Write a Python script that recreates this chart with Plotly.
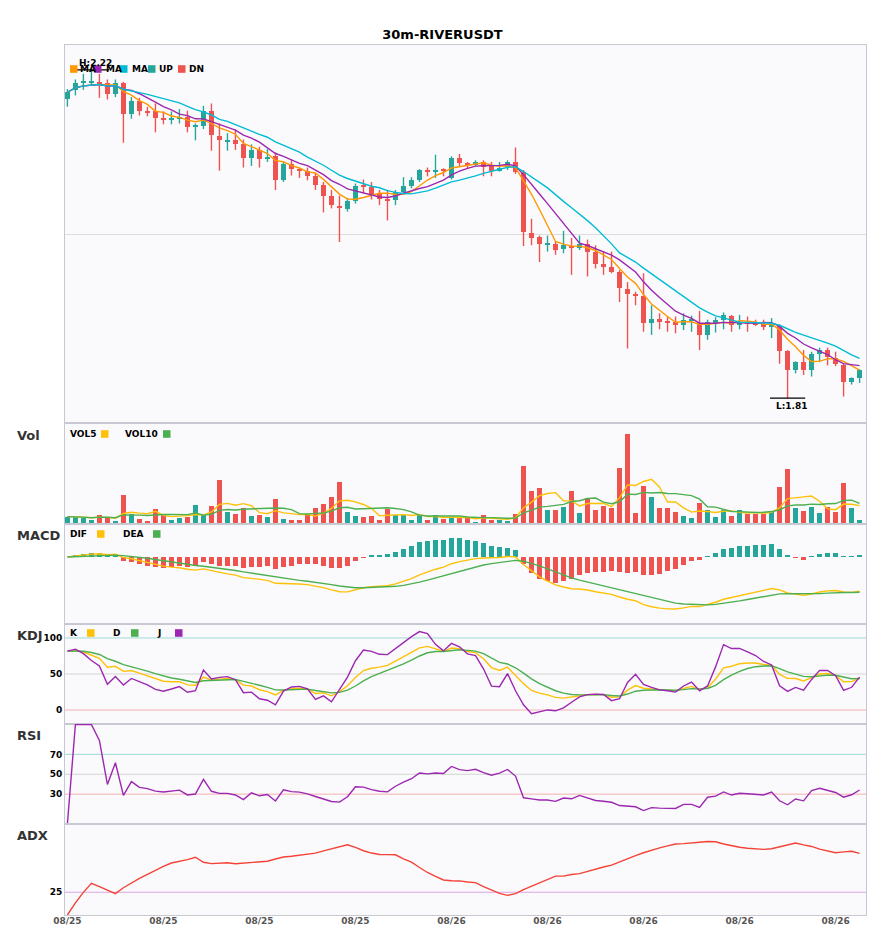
import numpy as np
import pandas as pd
import plotly.graph_objects as go
from plotly.subplots import make_subplots

# 30m candles (price in USDT)
opens = [2.184, 2.195, 2.204, 2.204, 2.205, 2.203, 2.190, 2.203, 2.165, 2.181,
         2.169, 2.168, 2.160, 2.158, 2.159, 2.161, 2.149, 2.150, 2.168, 2.138,
         2.131, 2.132, 2.127, 2.110, 2.120, 2.109, 2.112, 2.083, 2.102, 2.096,
         2.094, 2.087, 2.076, 2.063, 2.050, 2.046, 2.056, 2.075, 2.074, 2.065,
         2.059, 2.057, 2.067, 2.075, 2.082, 2.095, 2.093, 2.095, 2.085, 2.110,
         2.104, 2.101, 2.105, 2.100, 2.094, 2.099, 2.105, 2.092, 2.016, 2.011,
         2.002, 2.003, 1.996, 2.000, 1.998, 2.003, 1.993, 1.978, 1.974, 1.968,
         1.946, 1.940, 1.938, 1.904, 1.909, 1.905, 1.905, 1.901, 1.907, 1.903,
         1.889, 1.905, 1.908, 1.913, 1.902, 1.905, 1.905, 1.903, 1.899, 1.900,
         1.869, 1.845, 1.855, 1.845, 1.865, 1.870, 1.860, 1.852, 1.830, 1.835]
highs = [2.196, 2.208, 2.215, 2.220, 2.215, 2.208, 2.208, 2.205, 2.186, 2.185,
         2.174, 2.178, 2.168, 2.168, 2.171, 2.169, 2.153, 2.175, 2.178, 2.153,
         2.141, 2.146, 2.133, 2.127, 2.124, 2.121, 2.117, 2.105, 2.108, 2.097,
         2.098, 2.091, 2.080, 2.070, 2.063, 2.060, 2.078, 2.083, 2.080, 2.070,
         2.070, 2.070, 2.086, 2.086, 2.096, 2.098, 2.114, 2.097, 2.112, 2.115,
         2.105, 2.107, 2.107, 2.105, 2.105, 2.107, 2.123, 2.095, 2.034, 2.013,
         2.013, 2.006, 2.019, 2.010, 2.013, 2.008, 2.001, 1.993, 1.993, 1.970,
         1.955, 1.943, 1.966, 1.926, 1.916, 1.912, 1.912, 1.916, 1.913, 1.919,
         1.908, 1.911, 1.917, 1.914, 1.914, 1.912, 1.908, 1.908, 1.910, 1.902,
         1.870, 1.856, 1.870, 1.868, 1.873, 1.873, 1.868, 1.853, 1.836, 1.846]
lows = [2.174, 2.188, 2.195, 2.200, 2.185, 2.183, 2.186, 2.129, 2.159, 2.163,
        2.162, 2.142, 2.152, 2.152, 2.153, 2.142, 2.132, 2.146, 2.119, 2.094,
        2.119, 2.120, 2.098, 2.100, 2.098, 2.105, 2.070, 2.080, 2.088, 2.085,
        2.082, 2.070, 2.042, 2.047, 2.005, 2.043, 2.053, 2.066, 2.058, 2.051,
        2.032, 2.051, 2.066, 2.072, 2.080, 2.087, 2.085, 2.087, 2.083, 2.100,
        2.097, 2.100, 2.087, 2.087, 2.093, 2.095, 2.090, 2.000, 2.001, 1.980,
        1.993, 1.989, 1.991, 1.964, 1.995, 1.962, 1.972, 1.964, 1.966, 1.930,
        1.872, 1.926, 1.893, 1.889, 1.896, 1.893, 1.891, 1.895, 1.893, 1.870,
        1.883, 1.892, 1.896, 1.893, 1.896, 1.893, 1.900, 1.895, 1.885, 1.853,
        1.810, 1.841, 1.839, 1.837, 1.855, 1.851, 1.850, 1.812, 1.827, 1.829]
closes = [2.192, 2.203, 2.205, 2.205, 2.203, 2.190, 2.203, 2.165, 2.181, 2.169,
          2.166, 2.160, 2.158, 2.159, 2.160, 2.149, 2.150, 2.168, 2.139, 2.132,
          2.132, 2.127, 2.110, 2.120, 2.109, 2.111, 2.083, 2.103, 2.096, 2.094,
          2.087, 2.076, 2.063, 2.051, 2.047, 2.056, 2.075, 2.074, 2.065, 2.059,
          2.057, 2.067, 2.075, 2.082, 2.095, 2.093, 2.095, 2.094, 2.110, 2.104,
          2.102, 2.105, 2.099, 2.094, 2.098, 2.105, 2.093, 2.017, 2.010, 2.003,
          2.003, 1.995, 2.001, 1.997, 2.003, 1.993, 1.978, 1.974, 1.968, 1.947,
          1.940, 1.938, 1.904, 1.909, 1.905, 1.904, 1.902, 1.908, 1.908, 1.889,
          1.905, 1.907, 1.914, 1.902, 1.905, 1.903, 1.902, 1.899, 1.903, 1.869,
          1.845, 1.855, 1.845, 1.865, 1.870, 1.862, 1.853, 1.830, 1.835, 1.845]
# volume, thousands
volumes = [22, 22, 18, 13, 28, 18, 10, 88, 31, 16,
           10, 46, 26, 13, 19, 22, 58, 26, 55, 133,
           37, 31, 49, 25, 28, 22, 76, 16, 13, 13,
           28, 49, 61, 82, 127, 37, 25, 22, 25, 13,
           46, 28, 28, 13, 28, 13, 28, 16, 19, 19,
           19, 7, 28, 13, 13, 10, 31, 175, 100, 109,
           43, 43, 52, 100, 34, 79, 43, 55, 49, 169,
           271, 34, 115, 82, 49, 49, 37, 25, 19, 64,
           43, 22, 43, 25, 43, 31, 31, 31, 40, 112,
           166, 49, 40, 52, 34, 52, 37, 124, 49, 13]
tick_labels = ["08/25", "08/25", "08/25", "08/25", "08/26",
               "08/26", "08/26", "08/26", "08/26"]
ma_periods = [5, 8, 13]
price_grid = 2.014

UP = "#26a69a"
DN = "#ef5350"
FRAME = "#c8c8d2"

df = pd.DataFrame({"o": opens, "h": highs, "l": lows, "c": closes, "v": volumes})
n = len(df)
x = np.arange(n)
c = df["c"]

mas = [c.rolling(p, min_periods=1).mean() for p in ma_periods]
vol5 = df["v"].rolling(5, min_periods=1).mean()
vol10 = df["v"].rolling(10, min_periods=1).mean()

dif = c.ewm(span=12, adjust=False).mean() - c.ewm(span=26, adjust=False).mean()
dea = dif.ewm(span=9, adjust=False).mean()
hist = 2 * (dif - dea)

low9 = df["l"].rolling(9, min_periods=1).min()
high9 = df["h"].rolling(9, min_periods=1).max()
rsv = (c - low9) / (high9 - low9) * 100
k = rsv.ewm(com=2, adjust=False).mean()
d = k.ewm(com=2, adjust=False).mean()
j = 3 * k - 2 * d

delta = c.diff().fillna(0)
gain = delta.clip(lower=0).ewm(alpha=1 / 14, adjust=False).mean()
loss = (-delta).clip(lower=0).ewm(alpha=1 / 14, adjust=False).mean()
rsi = (100 * gain / (gain + loss)).fillna(0)

prev_c = c.shift(1)
tr = pd.concat([df["h"] - df["l"], (df["h"] - prev_c).abs(), (df["l"] - prev_c).abs()], axis=1).max(axis=1)
up_move = df["h"].diff().fillna(0)
down_move = (-df["l"].diff()).fillna(0)
plus_dm = pd.Series(np.where((up_move > down_move) & (up_move > 0), up_move, 0.0))
minus_dm = pd.Series(np.where((down_move > up_move) & (down_move > 0), down_move, 0.0))
atr = tr.ewm(span=14, adjust=False).mean()
pdi = 100 * plus_dm.ewm(span=14, adjust=False).mean() / atr
mdi = 100 * minus_dm.ewm(span=14, adjust=False).mean() / atr
dx = (100 * (pdi - mdi).abs() / (pdi + mdi)).fillna(0)
adx = dx.ewm(span=14, adjust=False).mean()

fig = make_subplots(rows=6, cols=1, shared_xaxes=True, vertical_spacing=0,
                    row_heights=[378, 101, 100, 100, 100, 91])

is_up = (df["c"] >= df["o"]).values
up_idx = x[is_up]
dn_idx = x[~is_up]
body_lo = np.minimum(df["o"], df["c"])
body_h = np.maximum((df["c"] - df["o"]).abs(), 0.0012)


def wicks(idx):
    xs, ys = [], []
    for i in idx:
        xs += [i, i, None]
        ys += [lows[i], highs[i], None]
    return xs, ys


for idx, col in [(up_idx, UP), (dn_idx, DN)]:
    wx, wy = wicks(idx)
    fig.add_trace(go.Scatter(x=wx, y=wy, mode="lines", line=dict(color=col, width=1.4),
                             hoverinfo="skip"), row=1, col=1)
    fig.add_trace(go.Bar(x=idx, y=body_h[idx], base=body_lo[idx], width=0.72,
                         marker=dict(color=col, line=dict(width=0))), row=1, col=1)

for s, col in zip(mas, ["#ff9800", "#9c27b0", "#00bcd4"]):
    fig.add_trace(go.Scatter(x=x, y=s, mode="lines", line=dict(color=col, width=1.4)), row=1, col=1)

# high / low markers
hi_i = int(df["h"].idxmax())
lo_i = int(df["l"].idxmin())
for i, val in [(hi_i, highs[hi_i]), (lo_i, lows[lo_i])]:
    fig.add_trace(go.Scatter(x=[i - 2.2, i + 2.2], y=[val, val], mode="lines",
                             line=dict(color="black", width=1.2)), row=1, col=1)

# volume
vcol = [UP if u else DN for u in is_up]
fig.add_trace(go.Bar(x=x, y=df["v"], width=0.72, marker=dict(color=vcol, line=dict(width=0))), row=2, col=1)
fig.add_trace(go.Scatter(x=x, y=vol5, mode="lines", line=dict(color="#ffc107", width=1.4)), row=2, col=1)
fig.add_trace(go.Scatter(x=x, y=vol10, mode="lines", line=dict(color="#4caf50", width=1.4)), row=2, col=1)

# macd
hcol = [UP if v >= 0 else DN for v in hist]
fig.add_trace(go.Bar(x=x, y=hist, width=0.72, marker=dict(color=hcol, line=dict(width=0))), row=3, col=1)
fig.add_trace(go.Scatter(x=x, y=dif, mode="lines", line=dict(color="#ffc107", width=1.4)), row=3, col=1)
fig.add_trace(go.Scatter(x=x, y=dea, mode="lines", line=dict(color="#4caf50", width=1.4)), row=3, col=1)

# kdj
for s, col in [(k, "#ffc107"), (d, "#4caf50"), (j, "#9c27b0")]:
    fig.add_trace(go.Scatter(x=x, y=s, mode="lines", line=dict(color=col, width=1.4)), row=4, col=1)

fig.add_trace(go.Scatter(x=x, y=rsi, mode="lines", line=dict(color="#9c27b0", width=1.4)), row=5, col=1)
fig.add_trace(go.Scatter(x=x, y=adx, mode="lines", line=dict(color="#f44336", width=1.4)), row=6, col=1)

# reference levels
for row, lvl, col in [(4, 100, "#9fd8d3"), (4, 50, "#d4d4d4"), (4, 0, "#f4b0b0"),
                      (5, 70, "#9fd8d3"), (5, 50, "#d4d4d4"), (5, 30, "#f4b0b0"),
                      (6, 25, "#dca6e3")]:
    fig.add_hline(y=lvl, line=dict(color=col, width=1), row=row, col=1, layer="below")

tickfont = dict(family="DejaVu Sans", size=9, color="black", weight="bold")
axis_common = dict(showline=True, mirror=True, linecolor=FRAME, linewidth=1,
                   zeroline=False, showgrid=False, ticks="")
for r in range(1, 7):
    fig.update_xaxes(range=[-0.3, 99.8], showticklabels=(r == 6), row=r, col=1, **axis_common)
    fig.update_yaxes(row=r, col=1, showticklabels=False, **axis_common)

fig.update_xaxes(tickvals=list(range(0, n, 12)), ticktext=tick_labels, ticklabelstandoff=-3,
                 tickfont=dict(family="DejaVu Sans", size=9, color="#555", weight="bold"), row=6, col=1)

fig.update_yaxes(range=[1.779, 2.251], showgrid=True, gridcolor="#dcdcdc",
                 tickvals=[price_grid], row=1, col=1)
fig.update_yaxes(range=[0, df["v"].max() * 1.118], row=2, col=1)
m_lo = 1.29 * min(dif.min(), dea.min(), hist.min())
fig.update_yaxes(range=[m_lo, -m_lo * 0.4925], row=3, col=1)
fig.update_yaxes(range=[-19.4, 119.4], showticklabels=True, tickvals=[0, 50, 100],
                 tickfont=tickfont, row=4, col=1)
fig.update_yaxes(range=[0, 100.5], showticklabels=True, tickvals=[30, 50, 70],
                 tickfont=tickfont, row=5, col=1)
fig.update_yaxes(range=[0, 100], showticklabels=True, tickvals=[25],
                 tickfont=tickfont, row=6, col=1)


# page pixel -> paper coordinates (plot area spans x 65..866, y 45..915 on the page)
def px(v):
    return (v - 65) / 801


def py(v):
    return (915 - v) / 870


annotations = []
shapes = []


def label(text, x0, y0, size=9, color="black"):
    # annotations carry ~2px of padding on the left
    annotations.append(dict(text=f"<b>{text}</b>", x=px(x0 - 2), y=py(y0), xref="paper", yref="paper",
                            xanchor="left", yanchor="middle", showarrow=False,
                            font=dict(family="DejaVu Sans", size=size, color=color)))


def square(x0, y0, color):
    shapes.append(dict(type="rect", xref="paper", yref="paper", x0=px(x0), x1=px(x0 + 7.5),
                       y0=py(y0 + 3.8), y1=py(y0 - 3.8), fillcolor=color, line=dict(width=0),
                       layer="above"))


# high / low text
annotations.append(dict(text=f"<b>H:{highs[hi_i]:.2f}</b>", x=hi_i, y=highs[hi_i], xref="x", yref="y",
                        yshift=7, xshift=4, showarrow=False,
                        font=dict(family="DejaVu Sans", size=9, color="black")))
annotations.append(dict(text=f"<b>L:{lows[lo_i]:.2f}</b>", x=lo_i, y=lows[lo_i], xref="x", yref="y",
                        yshift=-8, xshift=4, showarrow=False,
                        font=dict(family="DejaVu Sans", size=9, color="black")))

# main legend
for sx, tx, txt, col in [(70, 80, "MA", "#ff9800"), (94, 106, "MA", "#9c27b0"),
                         (120, 132, "MA", "#00bcd4"), (148, 159, "UP", UP), (178, 189, "DN", DN)]:
    label(txt, tx, 69)
    square(sx, 69, col)

# panel legends
for txt, tx, sx, yy, col in [("VOL5", 70, 101, 434, "#ffc107"), ("VOL10", 125, 163, 434, "#4caf50"),
                             ("DIF", 70, 97, 534, "#ffc107"), ("DEA", 123, 153, 534, "#4caf50"),
                             ("K", 70, 87, 633, "#ffc107"), ("D", 113, 131, 633, "#4caf50"),
                             ("J", 157, 175, 633, "#9c27b0")]:
    label(txt, tx, yy)
    square(sx, yy, col)

for txt, yy in [("Vol", 435), ("MACD", 535), ("KDJ", 635), ("RSI", 735), ("ADX", 835)]:
    label(txt, 17, yy, size=13, color="#333")

# the page adds an 8px body margin, so the figure is 8px smaller and margins shifted
fig.update_layout(
    width=877, height=942,
    margin=dict(l=57, r=19, t=37, b=35),
    paper_bgcolor="white", plot_bgcolor="#fafafc",
    barmode="overlay", bargap=0, showlegend=False,
    title=dict(text="<b>30m-RIVERUSDT</b>", x=(442.5 - 8) / 877, xref="container", xanchor="center",
               y=1 - 26 / 942, yref="container", yanchor="middle",
               font=dict(family="DejaVu Sans", size=13, color="black")),
    font=dict(family="DejaVu Sans"),
    annotations=annotations, shapes=list(fig.layout.shapes) + shapes,
)

fig.write_html("out.html")
